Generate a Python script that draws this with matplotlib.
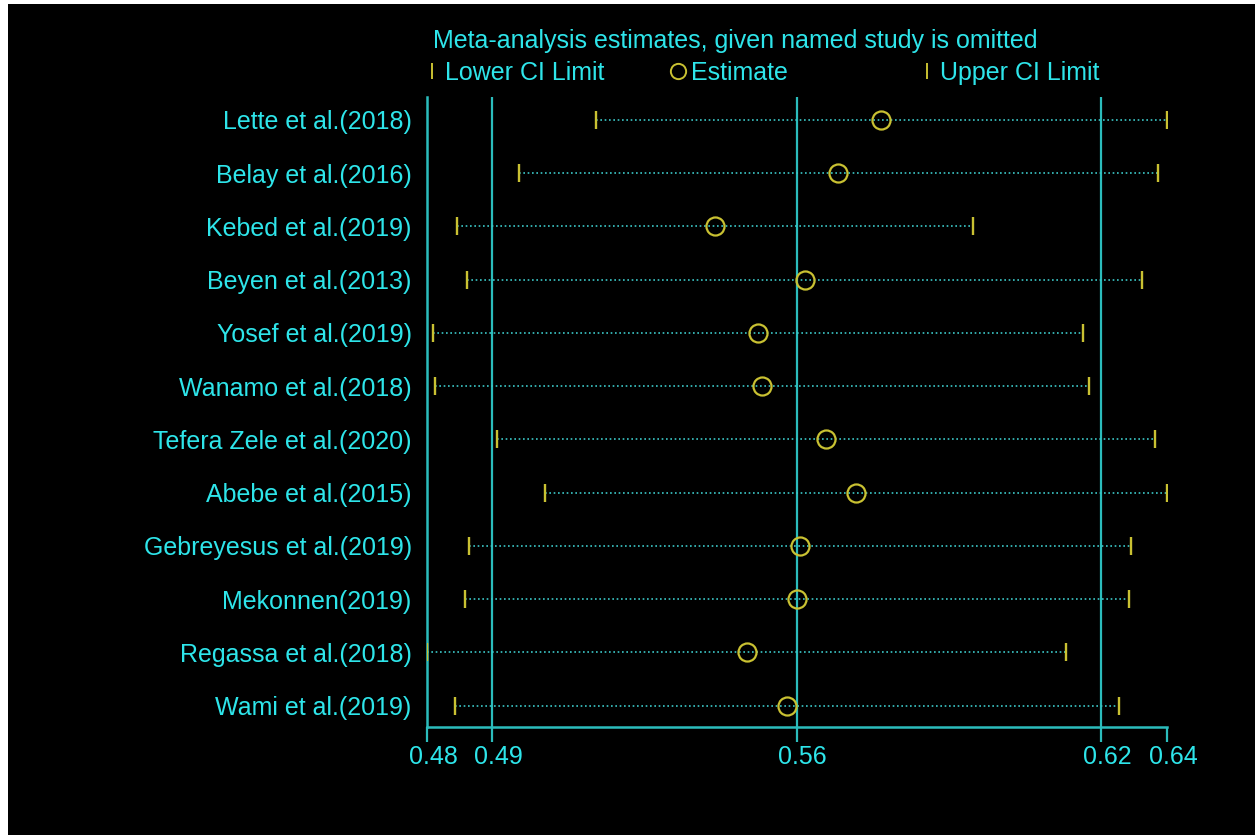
import matplotlib
matplotlib.use("Agg")
import matplotlib.pyplot as plt
from matplotlib.lines import Line2D
from matplotlib.patches import Rectangle
from matplotlib.transforms import ScaledTranslation

studies = [
    "Lette et al.(2018)",
    "Belay et al.(2016)",
    "Kebed et al.(2019)",
    "Beyen et al.(2013)",
    "Yosef et al.(2019)",
    "Wanamo et al.(2018)",
    "Tefera Zele et al.(2020)",
    "Abebe et al.(2015)",
    "Gebreyesus et al.(2019)",
    "Mekonnen(2019)",
    "Regassa et al.(2018)",
    "Wami et al.(2019)",
]
lower = [0.5124, 0.4958, 0.4824, 0.4845, 0.4770, 0.4775,
         0.4909, 0.5014, 0.4849, 0.4840, 0.4758, 0.4818]
estimate = [0.5743, 0.5650, 0.5383, 0.5577, 0.5475, 0.5484,
            0.5623, 0.5689, 0.5567, 0.5560, 0.5451, 0.5538]
upper = [0.6363, 0.6343, 0.5942, 0.6309, 0.6181, 0.6194,
         0.6338, 0.6363, 0.6286, 0.6280, 0.6143, 0.6258]

# pooled estimate and CI (reference lines)
pooled = [0.4900, 0.5560, 0.6220]
tick_labels = ["0.48", "0.49", "0.56", "0.62", "0.64"]

CYAN_TXT = "#2ee5ea"
CYAN_LN = "#2bbcbc"
CYAN_DOT = "#3cc8c8"
YELLOW = "#c9c132"
FONT = "Liberation Sans"
FS = 18

W, H = 1255, 835
fig = plt.figure(figsize=(W / 100, H / 100), dpi=100, facecolor="white")
fig.add_artist(Rectangle((8 / W, 0), 1, 1 - 4 / H, transform=fig.transFigure,
                         facecolor="black", edgecolor="none", zorder=-10))

ax = fig.add_axes([427 / W, 1 - 727 / H, (1167 - 427) / W, (727 - 97) / H])
ax.set_facecolor("black")

y = list(range(1, len(studies) + 1))
ax.hlines(y, lower, upper, colors=CYAN_DOT, linewidth=1.2,
          linestyles=(0, (1, 1.6)), zorder=2)
ax.plot(lower, y, ls="none", marker="|", ms=13, mew=1.7, color=YELLOW, zorder=3)
ax.plot(upper, y, ls="none", marker="|", ms=13, mew=1.7, color=YELLOW, zorder=3)
ax.plot(estimate, y, ls="none", marker="o", ms=13, mfc="none", mec=YELLOW,
        mew=1.6, zorder=4)
for v in pooled:
    ax.axvline(v, color=CYAN_LN, lw=1.6, zorder=1)

xmin, xmax = min(lower), max(upper)
ax.set_xlim(xmin, xmax)
ax.set_ylim(12.4, 0.57)
ax.set_xticks([xmin] + pooled + [xmax], tick_labels)
ax.set_yticks(y, studies)

for side in ("top", "right"):
    ax.spines[side].set_visible(False)
for side in ("left", "bottom"):
    ax.spines[side].set_color(CYAN_LN)
    ax.spines[side].set_linewidth(1.8)

ax.tick_params(axis="x", colors=CYAN_LN, length=11, width=1.6, pad=2,
               labelcolor=CYAN_TXT, labelsize=FS)
ax.tick_params(axis="y", length=0, pad=11, labelcolor=CYAN_TXT, labelsize=FS)
for lab in ax.get_xticklabels() + ax.get_yticklabels():
    lab.set_fontfamily(FONT)
shift = ScaledTranslation(6 / 100, 0, fig.dpi_scale_trans)
for lab in ax.get_xticklabels():
    lab.set_transform(lab.get_transform() + shift)

# legend
fig.text(433 / W, 1 - 41 / H, "Meta-analysis estimates, given named study is omitted",
         color=CYAN_TXT, fontsize=FS, family=FONT, va="center", ha="left")
handles = [
    Line2D([], [], ls="none", marker="|", ms=12, mew=1.4, color=YELLOW),
    Line2D([], [], ls="none", marker="o", ms=11, mfc="none", mec=YELLOW, mew=1.4),
    Line2D([], [], ls="none", marker="|", ms=12, mew=1.4, color=YELLOW),
]
labels = ["Lower CI Limit", "Estimate", "Upper CI Limit"]
col_x = [424, 670, 919]
for h, lab, cx in zip(handles, labels, col_x):
    leg = fig.legend([h], [lab], loc="center left",
                     bbox_to_anchor=(cx / W, 1 - 73 / H), frameon=False,
                     handlelength=0.6, handletextpad=0.25, borderpad=0,
                     borderaxespad=0, prop={"family": FONT, "size": FS},
                     labelcolor=CYAN_TXT)

fig.savefig("out.png", dpi=100, facecolor=fig.get_facecolor())
